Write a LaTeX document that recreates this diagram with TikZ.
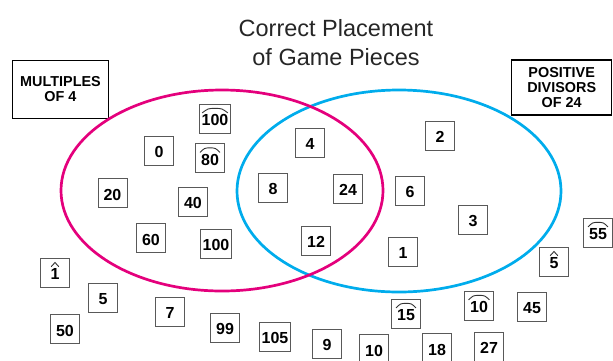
\documentclass[tikz,border=0pt]{standalone}
\usepackage{fontspec}
\setmainfont{Liberation Sans}
\newcommand\archhat[2]{%
  \begin{scope}[shift={(#1.center)}]
    \draw[hatline] (-#2,-5.6) .. controls (-0.55*#2,-10) .. (0,-10.2) .. controls (0.55*#2,-10) .. (#2,-5.6);
  \end{scope}}
\newcommand\carethat[1]{%
  \begin{scope}[shift={(#1.center)}]
    \draw[hatline] (-3.8,-5.8) -- (0,-10) -- (3.8,-5.8);
  \end{scope}}
\begin{document}
\begin{tikzpicture}[x=1pt,y=-1pt,
  piece/.style={draw=black!65, line width=1pt, minimum width=29pt, minimum height=29pt,
    inner sep=2pt, fill=white, text height=14.5pt, text depth=0pt,
    font=\fontsize{16}{16}\selectfont\bfseries},
  setbox/.style={draw=black, line width=1.2pt, minimum width=96pt,
    align=center, inner sep=1pt, font=\fontsize{14.4}{15.4}\selectfont\bfseries},
  titletext/.style={anchor=base, inner sep=0pt, font=\fontsize{23.5}{28}\selectfont, text=black!85},
  ring/.style={line width=2.7pt},
  hatline/.style={line width=0.9pt, black!80}
]
\definecolor{vmag}{RGB}{228,0,124}
\definecolor{vcyan}{RGB}{0,172,236}
\useasboundingbox (0,0) rectangle (613,360);

\node[titletext] (title1) at (336,36.7) {Correct Placement};
\node[titletext] (title2) at (336,65) {of Game Pieces};

\node[setbox, minimum height=58pt] (mult) at (60.5,89.2) {MULTIPLES\\OF 4};
\node[setbox, minimum width=100pt, minimum height=55pt] (divs) at (561.7,87.5) {POSITIVE\\DIVISORS\\OF 24};

\draw[ring, vcyan] (399,191) ellipse [x radius=162, y radius=101];
\draw[ring, vmag] (222,190.5) ellipse [x radius=161, y radius=100.5];

% multiples of 4 only
\node[piece] (h100) at (215,118.5) {100};
\node[piece] (n0) at (159,150.5) {0};
\node[piece] (h80) at (210,158) {80};
\node[piece] (n20) at (112.5,193) {20};
\node[piece] (n40) at (193,201.5) {40};
\node[piece] (n60) at (151,238) {60};
\node[piece] (n100) at (216,243.5) {100};
% intersection
\node[piece] (n4) at (310,142.5) {4};
\node[piece] (n8) at (273,187.5) {8};
\node[piece] (n24) at (348,188.5) {24};
\node[piece] (n12) at (316,240.5) {12};
% divisors only
\node[piece] (n2) at (440,135.5) {2};
\node[piece] (n6) at (410,190.5) {6};
\node[piece] (n3) at (473,219.5) {3};
\node[piece] (n1) at (403,251.5) {1};
% outside
\node[piece] (h55) at (598,232.5) {55};
\node[piece] (h5) at (554,261.5) {5};
\node[piece] (h1) at (55,272.5) {1};
\node[piece] (n5) at (103,297.5) {5};
\node[piece] (n50) at (65,329) {50};
\node[piece] (n7) at (170,311.5) {7};
\node[piece] (n99) at (225,327.5) {99};
\node[piece] (n105) at (275,336.5) {105};
\node[piece] (n9) at (327,343.5) {9};
\node[piece] (n10) at (374,349) {10};
\node[piece] (h15) at (406,313.5) {15};
\node[piece] (n18) at (437,348) {18};
\node[piece] (h10) at (479,305.5) {10};
\node[piece] (n45) at (532,306.5) {45};
\node[piece] (n27) at (489,346.5) {27};

% hats
\archhat{h100}{12.8}
\archhat{h80}{10}
\archhat{h55}{10}
\archhat{h15}{10}
\archhat{h10}{10.5}
\carethat{h1}
\carethat{h5}
\end{tikzpicture}
\end{document}
